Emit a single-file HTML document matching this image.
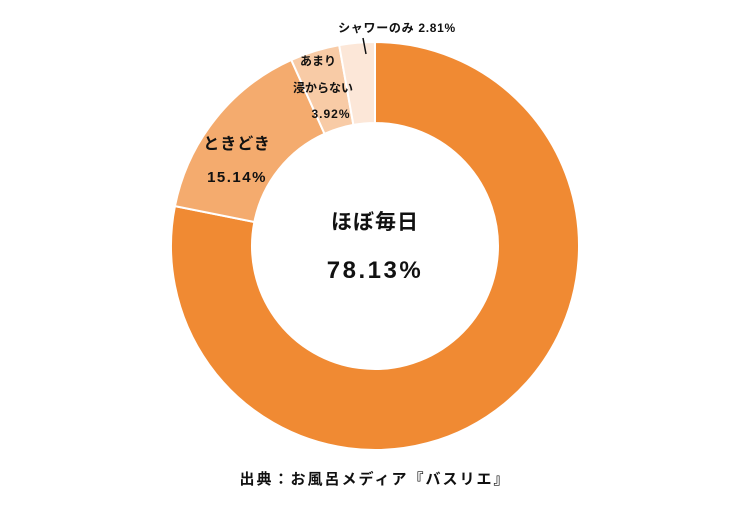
<!DOCTYPE html>
<html><head><meta charset="utf-8"><style>
body{margin:0;width:750px;height:500px;background:#fff;overflow:hidden}
svg text{font-family:"Liberation Sans","Noto Sans CJK JP",sans-serif;font-weight:bold;fill:#111}
</style></head><body>
<svg id="s" width="750" height="500" viewBox="0 0 750 500">
<g id="g"></g>
<line x1="366" y1="54" x2="363" y2="38" stroke="#111" stroke-width="1.5"/>
<text x="375" y="229" font-size="21" text-anchor="middle" letter-spacing="1">ほぼ毎日</text>
<text x="375" y="278" font-size="24" text-anchor="middle" letter-spacing="2.5">78.13%</text>
<text x="237" y="149" font-size="16" text-anchor="middle" letter-spacing="1">ときどき</text>
<text x="237" y="182" font-size="15" text-anchor="middle" letter-spacing="1.5">15.14%</text>
<text x="318" y="65" font-size="12" text-anchor="middle">あまり</text>
<text x="323" y="92" font-size="12" text-anchor="middle">浸からない</text>
<text x="331" y="118" font-size="12" text-anchor="middle" letter-spacing="1">3.92%</text>
<text x="397" y="32" font-size="12" text-anchor="middle" letter-spacing="0.7">シャワーのみ 2.81%</text>
<text x="375" y="484" font-size="15" text-anchor="middle" letter-spacing="2">出典：お風呂メディア『バスリエ』</text>
</svg>
<script>
var cx=375,cy=246,R=204,r=123;
var d=[[0.7813,"#F08A33"],[0.1514,"#F4AB6E"],[0.0392,"#F8CBA6"],[0.0281,"#FCE7D8"]];
var a=0,g=document.getElementById("g"),h="";
function p(rr,t){var q=t*2*Math.PI;return (cx+rr*Math.sin(q)).toFixed(2)+","+(cy-rr*Math.cos(q)).toFixed(2);}
d.forEach(function(e){var b=a+e[0],l=e[0]>0.5?1:0;
h+='<path d="M'+p(R,a)+' A'+R+','+R+' 0 '+l+' 1 '+p(R,b)+' L'+p(r,b)+' A'+r+','+r+' 0 '+l+' 0 '+p(r,a)+' Z" fill="'+e[1]+'" stroke="#fff" stroke-width="2"/>';a=b;});
g.innerHTML=h;
</script>
</body></html>
